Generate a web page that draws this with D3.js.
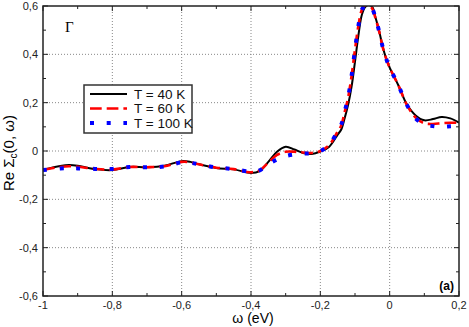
<!DOCTYPE html>
<html>
<head>
<meta charset="utf-8">
<script src="https://cdn.jsdelivr.net/npm/d3@7"></script>
<style>
  body { margin: 0; background: #fff; }
  svg { font-family: "Liberation Sans", Arial, Helvetica, sans-serif; }
  .grid line { stroke: #888; stroke-width: 1; stroke-dasharray: 1,2; }
  .tick-label { font-size: 11px; fill: #222; }
</style>
</head>
<body>
<svg id="chart" width="469" height="327"></svg>
<script>
// energies (eV), shared by all three series
const omega = [-1, -0.95, -0.925, -0.9, -0.85, -0.8, -0.75, -0.7, -0.65, -0.6, -0.575, -0.55,
  -0.5, -0.45, -0.4, -0.375, -0.35, -0.325, -0.3, -0.275, -0.25, -0.225, -0.2, -0.175,
  -0.15, -0.14, -0.13, -0.12, -0.11, -0.1, -0.09, -0.08, -0.07, -0.06, -0.05, -0.04,
  -0.03, -0.02, -0.01, 0, 0.025, 0.05, 0.075, 0.1, 0.125, 0.15, 0.175, 0.2];

const t40 = [-0.078, -0.062, -0.058, -0.061, -0.075, -0.079, -0.066, -0.067, -0.061, -0.042, -0.045, -0.055,
  -0.070, -0.076, -0.091, -0.083, -0.045, -0.003, 0.018, 0.006, -0.008, -0.012, -0.002, 0.017,
  0.068, 0.088, 0.135, 0.19, 0.265, 0.37, 0.48, 0.565, 0.597, 0.604, 0.595, 0.548,
  0.495, 0.43, 0.382, 0.345, 0.272, 0.192, 0.147, 0.127, 0.132, 0.141, 0.135, 0.117];

const t60 = [-0.078, -0.066, -0.063, -0.065, -0.074, -0.077, -0.066, -0.067, -0.063, -0.045, -0.047, -0.055,
  -0.069, -0.075, -0.088, -0.080, -0.048, -0.016, -0.003, -0.003, -0.006, -0.008, 0.0, 0.024,
  0.08, 0.105, 0.16, 0.22, 0.31, 0.42, 0.52, 0.585, 0.604, 0.604, 0.588, 0.545,
  0.493, 0.43, 0.382, 0.345, 0.272, 0.19, 0.138, 0.115, 0.112, 0.115, 0.117, 0.117];

const t100 = [-0.079, -0.072, -0.071, -0.072, -0.074, -0.074, -0.066, -0.067, -0.064, -0.047, -0.049, -0.055,
  -0.068, -0.075, -0.085, -0.080, -0.055, -0.035, -0.021, -0.014, -0.011, -0.009, 0.0, 0.025,
  0.082, 0.108, 0.162, 0.222, 0.31, 0.42, 0.52, 0.585, 0.604, 0.604, 0.588, 0.545,
  0.493, 0.43, 0.382, 0.345, 0.272, 0.19, 0.135, 0.11, 0.103, 0.100, 0.102, 0.105];

const seriesNames = ["T = 40 K", "T = 60 K", "T = 100 K"];

const xTicks = [-1, -0.8, -0.6, -0.4, -0.2, 0, 0.2];
const xMinor = [-0.9, -0.7, -0.5, -0.3, -0.1, 0.1];
const yTicks = [-0.6, -0.4, -0.2, 0, 0.2, 0.4, 0.6];
const yMinor = [-0.5, -0.3, -0.1, 0.1, 0.3, 0.5];

const margin = { top: 6, right: 10, bottom: 31, left: 43 },
      width = 469 - margin.left - margin.right,
      height = 327 - margin.top - margin.bottom;

const svg = d3.select("#chart");
const g = svg.append("g").attr("transform", `translate(${margin.left},${margin.top})`);

const x = d3.scaleLinear().domain([-1, 0.2]).range([0, width]);
const y = d3.scaleLinear().domain([-0.6, 0.6]).range([height, 0]);

const fmt = v => String(+v.toFixed(1)).replace(".", ",");

// grid
const grid = g.append("g").attr("class", "grid");
grid.selectAll(".gx").data(xTicks.slice(1, -1)).join("line")
  .attr("x1", d => x(d)).attr("x2", d => x(d)).attr("y1", 0).attr("y2", height);
grid.selectAll(".gy").data(yTicks.slice(1, -1)).join("line")
  .attr("class", "gy")
  .attr("y1", d => y(d)).attr("y2", d => y(d)).attr("x1", 0).attr("x2", width);

// ticks on all four sides, pointing inward
const ticks = g.append("g").attr("stroke", "#222").attr("stroke-width", 1);
[[xTicks, 5], [xMinor, 3]].forEach(([arr, len]) => {
  arr.forEach(d => {
    ticks.append("line").attr("x1", x(d)).attr("x2", x(d)).attr("y1", height).attr("y2", height - len);
    ticks.append("line").attr("x1", x(d)).attr("x2", x(d)).attr("y1", 0).attr("y2", len);
  });
});
[[yTicks, 5], [yMinor, 3]].forEach(([arr, len]) => {
  arr.forEach(d => {
    ticks.append("line").attr("y1", y(d)).attr("y2", y(d)).attr("x1", 0).attr("x2", len);
    ticks.append("line").attr("y1", y(d)).attr("y2", y(d)).attr("x1", width).attr("x2", width - len);
  });
});

// tick labels
g.selectAll(".xl").data(xTicks).join("text")
  .attr("class", "tick-label")
  .attr("x", d => x(d)).attr("y", height + 13)
  .attr("text-anchor", "middle")
  .text(fmt);
g.selectAll(".yl").data(yTicks).join("text")
  .attr("class", "tick-label")
  .attr("x", -5).attr("y", d => y(d)).attr("dy", "0.35em")
  .attr("text-anchor", "end")
  .text(fmt);

// curves
svg.append("defs").append("clipPath").attr("id", "clip")
  .append("rect").attr("width", width).attr("height", height);

const line = vals => d3.line()
  .x((d, i) => x(omega[i]))
  .y(d => y(d))
  .curve(d3.curveCatmullRom.alpha(0.5))(vals);

const styles = [
  { color: "#000", width: 2, dash: null },
  { color: "#ff0000", width: 2.6, dash: "11.7,5" },
  { color: "#0000ff", width: 4, dash: "4,12.7" }
];
const data = [t40, t60, t100];

const plot = g.append("g").attr("clip-path", "url(#clip)");
data.forEach((vals, k) => {
  plot.append("path")
    .attr("d", line(vals))
    .attr("fill", "none")
    .attr("stroke", styles[k].color)
    .attr("stroke-width", styles[k].width)
    .attr("stroke-dasharray", styles[k].dash);
});

// frame
g.append("rect").attr("width", width).attr("height", height)
  .attr("fill", "none").attr("stroke", "#222").attr("stroke-width", 1.5);

// legend
const lg = svg.append("g").attr("transform", "translate(84,85)");
lg.append("rect").attr("width", 108).attr("height", 48)
  .attr("fill", "#fff").attr("stroke", "#333").attr("stroke-width", 1.5);
seriesNames.forEach((name, k) => {
  const yy = 9 + k * 14.5;
  lg.append("line").attr("x1", 6).attr("x2", 43).attr("y1", yy).attr("y2", yy)
    .attr("stroke", styles[k].color).attr("stroke-width", styles[k].width)
    .attr("stroke-dasharray", styles[k].dash);
  lg.append("text").attr("x", 50).attr("y", yy).attr("dy", "0.36em")
    .attr("font-size", "13.5px").attr("fill", "#111").text(name);
});

// annotations
svg.append("text").attr("x", 65).attr("y", 32)
  .attr("font-family", "'Liberation Serif', 'DejaVu Serif', serif")
  .attr("font-size", "15px").text("Γ");
svg.append("text").attr("x", 454).attr("y", 290).attr("text-anchor", "end")
  .attr("font-size", "12px").attr("font-weight", "bold").text("(a)");

// axis titles
svg.append("text").attr("x", margin.left + width / 2 + 2).attr("y", 323)
  .attr("text-anchor", "middle").attr("font-size", "14px").text("ω (eV)");
const yt = svg.append("text")
  .attr("transform", `translate(14,${margin.top + height / 2 + 2}) rotate(-90)`)
  .attr("text-anchor", "middle").attr("font-size", "15px");
yt.append("tspan").text("Re Σ");
yt.append("tspan").attr("font-size", "10px").attr("dy", 3).text("c");
yt.append("tspan").attr("dy", -3).text("(0, ω)");
</script>
</body>
</html>
